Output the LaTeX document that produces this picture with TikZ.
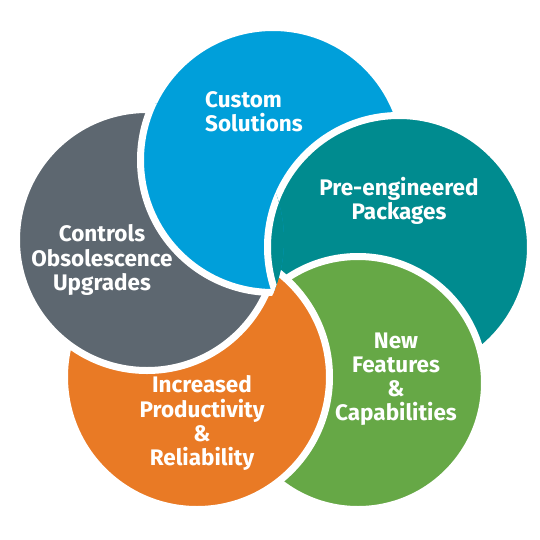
\documentclass[tikz,border=0pt]{standalone}
\usepackage{fontspec}
\setmainfont{Fira Sans}
\usepackage{tikz}
\usetikzlibrary{positioning}

\definecolor{csblue}{HTML}{009FDA}
\definecolor{csteal}{HTML}{008B8F}
\definecolor{csgreen}{HTML}{66A846}
\definecolor{csorange}{HTML}{E97A25}
\definecolor{csgray}{HTML}{5D6770}

\begin{document}
\begin{tikzpicture}[
  x=0.2mm, y=-0.2mm,
  font=\fontsize{12.8pt}{13.7pt}\selectfont\bfseries,
  bubble/.style={circle, draw=white, line width=1.4mm,
  inner sep=0pt, outer sep=0pt},
  tlabel/.style={text=white, align=center},
]
\useasboundingbox (0,0) rectangle (540,540);

% circles, bottom to top
\node[bubble, fill=csblue, minimum size=265*0.2mm] (custom) at (273,160) {};
\node[bubble, fill=csteal, minimum size=263*0.2mm] (preeng) at (399,247) {};
\node[bubble, fill=csgreen, minimum size=253*0.2mm] (newfeat) at (358,383) {};
\node[bubble, fill=csorange, minimum size=265*0.2mm] (increased) at (197,377) {};
\node[bubble, fill=csgray, minimum size=261*0.2mm] (controls) at (147,240) {};

% close the ring: blue lies over gray
\begin{scope}
  \clip (controls.center) circle[radius=137];
  \node[bubble, fill=csblue, minimum size=265*0.2mm] (custom-top) at (custom.center) {};
  \node[bubble, fill=csteal, minimum size=263*0.2mm] (preeng-top) at (preeng.center) {};
\end{scope}

% labels
\node[tlabel, align=left, anchor=west] (l-custom) at (199,112) {Custom\\Solutions};
\node[tlabel] (l-preeng) at (399,201) {Pre-engineered\\Packages};
\node[tlabel] (l-controls) at (102,260) {Controls\\Obsolescence\\Upgrades};
\node[tlabel] (l-newfeat) at (396,379) {New\\Features\\\&\\Capabilities};
\node[tlabel] (l-increased) at (202,423) {Increased\\Productivity\\\&\\Reliability};
\end{tikzpicture}
\end{document}
